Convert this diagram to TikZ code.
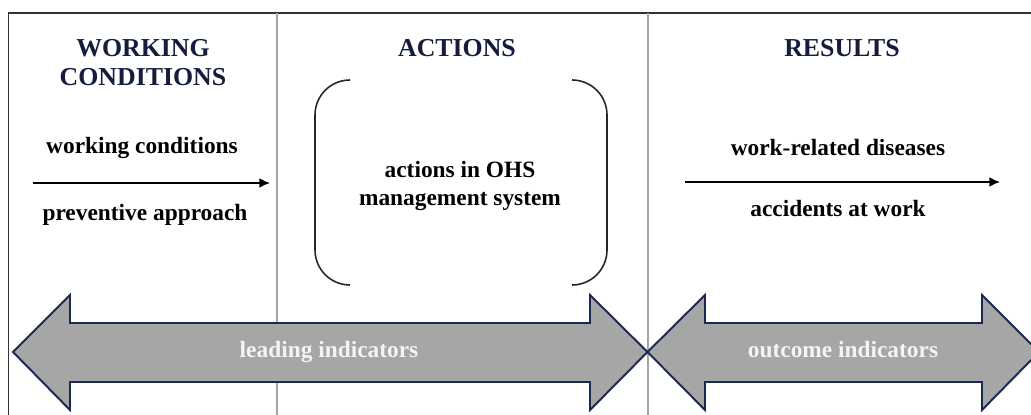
\documentclass[tikz,border=0pt]{standalone}
\usepackage{fontspec}
\usetikzlibrary{arrows.meta}
\setmainfont{Liberation Serif}
\definecolor{headnavy}{RGB}{22,28,62}
\definecolor{arrowline}{RGB}{26,40,82}
\definecolor{arrowfill}{RGB}{166,166,166}
\definecolor{arrowtext}{RGB}{244,244,244}
\definecolor{divgray}{RGB}{165,165,165}
\begin{document}
\begin{tikzpicture}[
        head/.style={font=\fontsize{14.7}{16.5}\selectfont\bfseries,text=headnavy,align=center,inner sep=0pt},
        body/.style={font=\fontsize{13.3}{15.9}\selectfont\bfseries,align=center,inner sep=0pt},
        bigarrow/.style={draw=arrowline,line width=1.1pt,fill=arrowfill,line join=miter},
        inarrow/.style={font=\fontsize{13.3}{15.9}\selectfont\bfseries,text=arrowtext,inner sep=0pt},
        bracket/.style={line width=0.9pt,black!85,rounded corners=0.7cm},
        thinarrow/.style={line width=0.9pt,-{Latex[length=6pt,width=5.5pt]}}]
        \clip (0,0) rectangle (20.62,8.28);
        \fill[white] (0,0) rectangle (20.62,8.28);
        \draw[line width=1.1pt,black!80] (0.17,-0.5) |- (21,8.02); % marco
        \draw[divgray,line width=0.85pt] (5.54,8.02) -- (5.54,-0.5); % division 1
        \draw[divgray,line width=0.85pt] (12.96,8.02) -- (12.96,-0.5); % division 2
        \node[head] (wchead) at (2.86,7.02) {WORKING\\CONDITIONS};
        \node[head] (achead) at (9.14,7.32) {ACTIONS};
        \node[head] (rehead) at (16.84,7.32) {RESULTS};
        \node[body] (wctop) at (2.84,5.32) {working conditions};
        \node[body] (wcbot) at (2.90,3.98) {preventive approach};
        \coordinate (wcA) at (0.66,4.62);
        \coordinate (wcB) at (5.40,4.62);
        \draw[thinarrow] (wcA) -- (wcB); % flecha izquierda
        \node[body] (acts) at (9.20,4.56) {actions in OHS\\management system};
        \draw[bracket] (7.00,6.68) -- (6.30,6.68) -- (6.30,2.58) -- (7.00,2.58); % parentesis izq
        \draw[bracket] (11.46,6.68) -- (12.14,6.68) -- (12.14,2.58) -- (11.46,2.58); % parentesis der
        \node[body] (retop) at (16.76,5.32) {work-related diseases};
        \node[body] (rebot) at (16.76,4.10) {accidents at work};
        \coordinate (reA) at (13.70,4.64);
        \coordinate (reB) at (20.00,4.64);
        \draw[thinarrow] (reA) -- (reB); % flecha derecha
        \draw[bigarrow] (0.26,1.24) -- (1.40,2.38) -- (1.40,1.82) -- (11.80,1.82) -- (11.80,2.38) -- (12.95,1.24)
                -- (11.80,0.08) -- (11.80,0.64) -- (1.40,0.64) -- (1.40,0.08) -- cycle; % flecha doble 1
        \draw[bigarrow] (12.95,1.24) -- (14.10,2.38) -- (14.10,1.82) -- (19.64,1.82) -- (19.64,2.38) -- (20.78,1.24)
                -- (19.64,0.08) -- (19.64,0.64) -- (14.10,0.64) -- (14.10,0.08) -- cycle; % flecha doble 2
        \node[inarrow] (lead) at (6.58,1.24) {leading indicators};
        \node[inarrow] (outc) at (16.86,1.28) {outcome indicators};
        \end{tikzpicture}
\end{document}
